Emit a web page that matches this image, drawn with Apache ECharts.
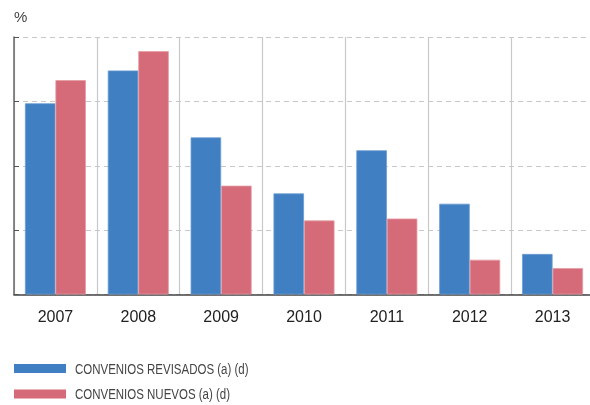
<!DOCTYPE html>
<html><head><meta charset="utf-8">
<script src="https://cdn.jsdelivr.net/npm/echarts@6/dist/echarts.min.js"></script>
<style>html,body{margin:0;padding:0;background:#fff}#c{width:590px;height:405px}</style>
</head><body><div id="c"></div>
<script>
const categories = ['2007','2008','2009','2010','2011','2012','2013'];
const revisados = [2.97, 3.48, 2.44, 1.57, 2.24, 1.41, 0.63];
const nuevos = [3.33, 3.78, 1.69, 1.15, 1.18, 0.54, 0.41];
const seriesNames = ['CONVENIOS REVISADOS (a) (d)', 'CONVENIOS NUEVOS (a) (d)'];
const unitLabel = '%';

const chart = echarts.init(document.getElementById('c'), null, {renderer: 'canvas'});
chart.setOption({
  animation: false,
  backgroundColor: '#fff',
  title: {
    text: unitLabel, left: 9, top: 5,
    textStyle: {fontFamily: 'Liberation Sans', fontSize: 15, fontWeight: 'normal', color: '#444'}
  },
  grid: {left: 14, top: 37, width: 580, height: 257.5, containLabel: false, outerBoundsMode: 'none'},
  legend: {
    orient: 'vertical', left: 14, top: 364, padding: 0, itemGap: 16.5,
    itemWidth: 52, itemHeight: 9, icon: 'rect',
    itemStyle: {borderWidth: 0},
    formatter: function () { return ''; },
    textStyle: {fontSize: 13, lineHeight: 9},
    data: seriesNames
  },
  graphic: [
    {type: 'text', left: 75, top: 363, scaleX: 0.82, silent: true,
     style: {text: seriesNames[0], fontFamily: 'Liberation Sans', fontSize: 14, fill: '#444'}},
    {type: 'text', left: 75, top: 388, scaleX: 0.82, silent: true,
     style: {text: seriesNames[1], fontFamily: 'Liberation Sans', fontSize: 14, fill: '#444'}}
  ],
  xAxis: {
    type: 'category', data: categories,
    axisLine: {lineStyle: {color: '#444', width: 1.5}},
    axisTick: {inside: true, length: 5, lineStyle: {color: '#444'}},
    splitLine: {show: true, lineStyle: {color: '#c8c8c8', width: 1.2, type: 'solid'}},
    axisLabel: {margin: 15, fontFamily: 'Liberation Sans', fontSize: 16, color: '#222'}
  },
  yAxis: {
    type: 'value', min: 0, max: 4, interval: 1,
    axisLine: {show: true, lineStyle: {color: '#666', width: 1.5}},
    axisTick: {show: true, inside: true, length: 5, lineStyle: {color: '#555'}},
    axisLabel: {show: false},
    splitLine: {show: true, lineStyle: {color: '#c8c8c8', width: 1.2, type: [5, 4]}}
  },
  series: [
    {name: seriesNames[0], type: 'bar', data: revisados, barWidth: 30.5, barGap: '0%',
     itemStyle: {color: '#3f7fc2', borderColor: '#6b9bd0', borderWidth: 0.8}},
    {name: seriesNames[1], type: 'bar', data: nuevos, barWidth: 30.5, barGap: '0%',
     itemStyle: {color: '#d56b78', borderColor: '#e59aa3', borderWidth: 0.8}}
  ]
});
</script></body></html>
